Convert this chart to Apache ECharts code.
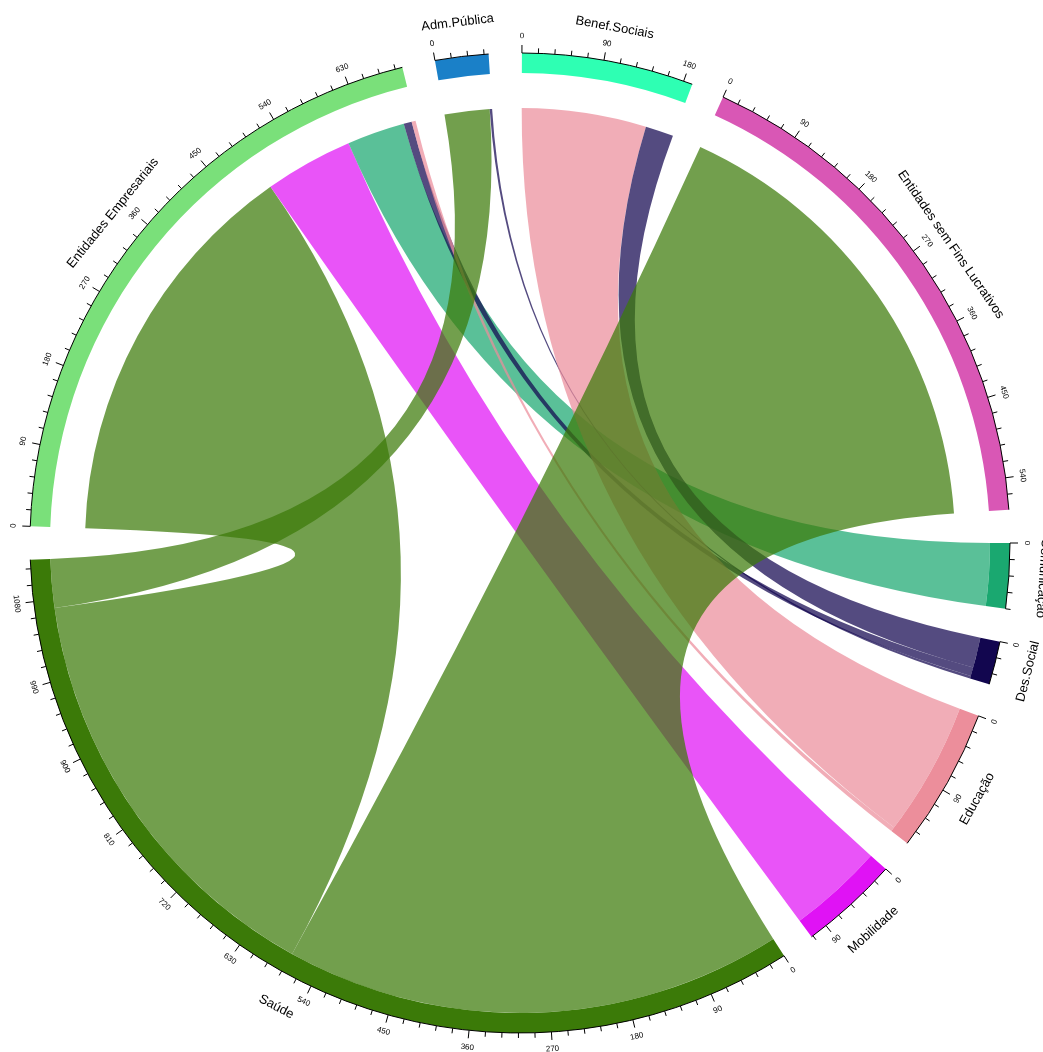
<!doctype html>
<html>
<head>
<meta charset="utf-8">
<title>Chord</title>
<script src="https://cdn.jsdelivr.net/npm/echarts@6/dist/echarts.min.js"></script>
<style>html,body{margin:0;background:#fff}</style>
</head>
<body>
<div id="container" style="width:1043px;height:1052px;"></div>
<script type="text/javascript">
// sectors, clockwise from the east
var sectors = ['Comunicação', 'Des.Social', 'Educação', 'Mobilidade', 'Saúde',
  'Entidades Empresariais', 'Adm.Pública', 'Benef.Sociais', 'Entidades sem Fins Lucrativos'];
var sectorColors = ['#1aa870', '#12064f', '#ec8e9b', '#e012f5', '#3b7a08',
  '#7ae07a', '#1a80c8', '#2effb3', '#d957b5'];
// flows (order = order on the source arc)
var flowSource = ['Entidades Empresariais', 'Entidades Empresariais', 'Entidades Empresariais', 'Entidades Empresariais', 'Entidades Empresariais',
  'Adm.Pública', 'Adm.Pública', 'Benef.Sociais', 'Benef.Sociais', 'Entidades sem Fins Lucrativos'];
var flowTarget = ['Saúde', 'Mobilidade', 'Comunicação', 'Des.Social', 'Educação',
  'Saúde', 'Des.Social', 'Educação', 'Des.Social', 'Saúde'];
var flowValue = [495, 110, 72, 10, 5, 56, 3, 155, 35, 575];
// position of each flow on its target arc
var flowTargetRank = [1, 0, 0, 1, 1, 2, 2, 0, 0, 0];
var minorStep = 18, majorStep = 90;

// ---- layout
var cx = 520, cy = 543, R = 490, rIn = 470, rSrc = 435, gap = 3.9;
var totals = sectors.map(function () { return 0; });
flowValue.forEach(function (v, i) {
  totals[sectors.indexOf(flowSource[i])] += v;
  totals[sectors.indexOf(flowTarget[i])] += v;
});
var sum = totals.reduce(function (a, b) { return a + b; }, 0);
var k = (360 - gap * sectors.length) / sum;
var starts = [], a = 0;
totals.forEach(function (t) { starts.push(a); a += t * k + gap; });

// angles for flows
var srcAng = [], tgtAng = [];
var used = sectors.map(function () { return 0; });
flowValue.forEach(function (v, i) {
  var s = sectors.indexOf(flowSource[i]);
  srcAng.push([starts[s] + used[s] * k, starts[s] + (used[s] + v) * k]);
  used[s] += v;
});
sectors.forEach(function (name, s) {
  var idx = [];
  flowTarget.forEach(function (t, i) { if (t === name) idx.push(i); });
  idx.sort(function (x, y) { return flowTargetRank[x] - flowTargetRank[y]; });
  var u = 0;
  idx.forEach(function (i) {
    tgtAng[i] = [starts[s] + u * k, starts[s] + (u + flowValue[i]) * k];
    u += flowValue[i];
  });
});

function pt(r, deg) {
  var t = deg * Math.PI / 180;
  return (cx + r * Math.cos(t)).toFixed(2) + ' ' + (cy + r * Math.sin(t)).toFixed(2);
}
function xy(r, deg) {
  var t = deg * Math.PI / 180;
  return [cx + r * Math.cos(t), cy + r * Math.sin(t)];
}
function textRot(deg) {
  var d = ((deg % 360) + 360) % 360;
  var phi = (d > 6 && d < 180) ? d - 90 : d + 90;
  return -phi * Math.PI / 180;
}

function renderSector(params, api) {
  var s = params.dataIndex;
  var a1 = starts[s], a2 = starts[s] + totals[s] * k;
  var lg = (a2 - a1) > 180 ? 1 : 0;
  var children = [];
  children.push({
    type: 'path',
    shape: { pathData: 'M' + pt(R, a1) + ' A' + R + ' ' + R + ' 0 ' + lg + ' 1 ' + pt(R, a2) +
      ' L' + pt(rIn, a2) + ' A' + rIn + ' ' + rIn + ' 0 ' + lg + ' 0 ' + pt(rIn, a1) + ' Z' },
    style: { fill: sectorColors[s] }
  });
  children.push({
    type: 'path',
    shape: { pathData: 'M' + pt(R, a1) + ' A' + R + ' ' + R + ' 0 ' + lg + ' 1 ' + pt(R, a2) },
    style: { fill: null, stroke: '#000', lineWidth: 1 }
  });
  for (var v = 0; v <= totals[s]; v += minorStep) {
    var ang = a1 + v * k;
    var major = v % majorStep === 0;
    var p0 = xy(R, ang), p1 = xy(R + (major ? 8 : 5), ang);
    children.push({
      type: 'line',
      shape: { x1: p0[0], y1: p0[1], x2: p1[0], y2: p1[1] },
      style: { stroke: '#000', lineWidth: 1 }
    });
    if (major) {
      var pl = xy(R + 17, ang);
      children.push({
        type: 'text', x: pl[0], y: pl[1], rotation: textRot(ang),
        style: { text: String(v), fill: '#000', font: '8px Arial, sans-serif', align: 'center', verticalAlign: 'middle' }
      });
    }
  }
  var mid = (a1 + a2) / 2;
  var pn = xy(R + 34, mid);
  children.push({
    type: 'text', x: pn[0], y: pn[1], rotation: textRot(mid),
    style: { text: sectors[s], fill: '#000', font: '13px Arial, sans-serif', align: 'center', verticalAlign: 'middle' }
  });
  return { type: 'group', children: children };
}

function renderChord(params, api) {
  var i = params.dataIndex;
  var s = srcAng[i], t = tgtAng[i];
  var c = cx + ' ' + cy;
  var d = 'M' + pt(rSrc, s[0]) +
    ' A' + rSrc + ' ' + rSrc + ' 0 0 1 ' + pt(rSrc, s[1]) +
    ' Q' + c + ' ' + pt(rIn, t[0]) +
    ' A' + rIn + ' ' + rIn + ' 0 0 1 ' + pt(rIn, t[1]) +
    ' Q' + c + ' ' + pt(rSrc, s[0]) + ' Z';
  return {
    type: 'path',
    shape: { pathData: d },
    style: { fill: sectorColors[sectors.indexOf(flowTarget[i])], opacity: 0.72 }
  };
}

var option = {
  animation: false,
  series: [{
    type: 'custom',
    coordinateSystem: 'none',
    renderItem: renderChord,
    data: flowValue
  }, {
    type: 'custom',
    coordinateSystem: 'none',
    renderItem: renderSector,
    data: totals
  }]
};
var myChart = echarts.init(document.getElementById('container'));
myChart.setOption(option);
</script>
</body>
</html>
